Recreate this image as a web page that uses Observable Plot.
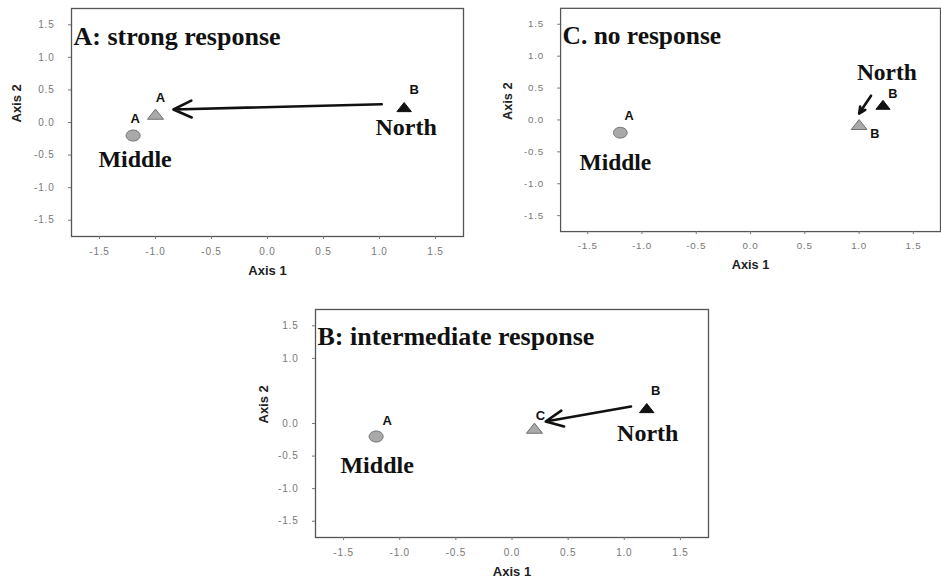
<!DOCTYPE html>
<html>
<head>
<meta charset="utf-8">
<script src="https://cdn.jsdelivr.net/npm/d3@7"></script>
<script src="https://cdn.jsdelivr.net/npm/@observablehq/plot@0.6"></script>
<style>
  html, body { margin: 0; padding: 0; background: #fff; }
  body { width: 941px; height: 584px; position: relative; overflow: hidden; }
  .panel { position: absolute; }
</style>
</head>
<body>
<div id="pA" class="panel"></div>
<div id="pB" class="panel"></div>
<div id="pC" class="panel"></div>
<script>
// ---- data ----
const titles = ["A: strong response", "B: intermediate response", "C. no response"];
const siteNames = ["Middle", "North"];
const middleX = [-1.2, -1.21, -1.2];
const middleY = [-0.2, -0.2, -0.2];
const shiftedX = [-1.0, 0.2, 1.0];
const shiftedY = [0.12, -0.08, -0.08];
const northX = [1.22, 1.2, 1.22];
const northY = [0.23, 0.23, 0.23];
const arrowFromX = [1.02, 1.06, 1.11];
const arrowFromY = [0.28, 0.26, 0.38];
const arrowToX = [-0.84, 0.3, 1.0];
const arrowToY = [0.2, 0.03, 0.1];
const middleLetters = ["A", "A", "A"];
const shiftedLetters = ["A", "C", "B"];
const northLetters = ["B", "B", "B"];
const xTicks = [-1.5, -1.0, -0.5, 0.0, 0.5, 1.0, 1.5];
const yTicksFull = [-1.5, -1.0, -0.5, 0.0, 0.5, 1.0, 1.5];
const yTicksB = [-1.5, -1.0, -0.5, 0.0, 1.0, 1.5];
const axisNames = ["Axis 1", "Axis 2"];

// ---- custom symbols ----
const ellipse = {
  draw(ctx, size) {
    const r = Math.sqrt(size / Math.PI);
    const rx = r * 1.15, ry = r * 0.9, k = 0.5523;
    ctx.moveTo(rx, 0);
    ctx.bezierCurveTo(rx, ry * k, rx * k, ry, 0, ry);
    ctx.bezierCurveTo(-rx * k, ry, -rx, ry * k, -rx, 0);
    ctx.bezierCurveTo(-rx, -ry * k, -rx * k, -ry, 0, -ry);
    ctx.bezierCurveTo(rx * k, -ry, rx, -ry * k, rx, 0);
    ctx.closePath();
  }
};
const flatTriangle = {
  draw(ctx, size) {
    const r = Math.sqrt(size / Math.PI);
    const hw = r * 1.15, h = r * 1.45;
    ctx.moveTo(0, -h * 0.55);
    ctx.lineTo(hw, h * 0.45);
    ctx.lineTo(-hw, h * 0.45);
    ctx.closePath();
  }
};

// ---- layout per panel (order: A, B, C) ----
const layouts = [
  {id: "pA", left: 0, top: 0, width: 470, height: 290, ml: 71, mr: 7, mt: 8, mb: 54,
   yTicks: yTicksFull, titleDy: 18, axis2Dx: -55, head: 11.5, titleLen: 215, midLen: 75, northLen: 60,
   midLetter: [2, -17], shiftLetter: [5, -17], northLetter: [10, -18], middle: [2, 24], north: [2, 20]},
  {id: "pB", left: 250, top: 300, width: 460, height: 284, ml: 65, mr: 2, mt: 9, mb: 47,
   yTicks: yTicksB, titleDy: 17.5, axis2Dx: -52, head: 11, titleLen: 287, midLen: 73, northLen: 61,
   midLetter: [11, -16], shiftLetter: [6, -13], northLetter: [9, -18], middle: [1, 29], north: [1, 25]},
  {id: "pC", left: 470, top: 0, width: 481, height: 290, ml: 92, mr: 1, mt: 8, mb: 54,
   yTicks: yTicksFull, titleDy: 18, axis2Dx: -54, head: 6, titleLen: 169, midLen: 73, northLen: 60,
   midLetter: [9, -17], shiftLetter: [16, 9], northLetter: [10, -12], middle: [-5, 30], north: [4, -34]}
];

const serif = "'Liberation Serif', 'Times New Roman', serif";
const sans = "'Liberation Sans', Arial, sans-serif";
const fmt = d => d.toFixed(1);

layouts.forEach((L, i) => {
  const pt = (x, y) => [{x, y}];
  const letterStyle = {fontFamily: sans, fontWeight: "bold", fontSize: 13, fill: "#111"};
  const svg = Plot.plot({
    width: L.width, height: L.height,
    marginLeft: L.ml, marginRight: L.mr, marginTop: L.mt, marginBottom: L.mb,
    style: {background: "transparent", overflow: "visible", fontFamily: sans},
    x: {domain: [-1.75, 1.75], axis: null},
    y: {domain: [-1.75, 1.75], axis: null},
    marks: [
      Plot.frame({stroke: "#555", strokeWidth: 1.3}),
      Plot.axisX(xTicks, {anchor: "bottom", tickSize: 3, tickPadding: 8, tickFormat: fmt,
        color: "#777", fontSize: 10, label: null}),
      Plot.axisY(L.yTicks, {anchor: "left", tickSize: 3, tickPadding: 14, tickFormat: fmt,
        color: "#777", fontSize: 10, label: null}),
      Plot.text([axisNames[0]], {text: d => d, frameAnchor: "bottom", dy: 38,
        fontWeight: "bold", fontSize: 13, fill: "#222", fontFamily: sans, ariaLabel: "axis1"}),
      Plot.text([axisNames[1]], {text: d => d, frameAnchor: "left", dx: L.axis2Dx, rotate: -90,
        fontWeight: "bold", fontSize: 13, fill: "#222", fontFamily: sans, ariaLabel: "axis2"}),
      Plot.text([titles[i]], {text: d => d, frameAnchor: "top-left", textAnchor: "start",
        dx: 2, dy: L.titleDy, fontFamily: serif, fontWeight: "bold", fontSize: 26, fill: "#111",
        ariaLabel: "paneltitle"}),
      // points
      Plot.dot(pt(shiftedX[i], shiftedY[i]), {x: "x", y: "y", r: 7, symbol: flatTriangle,
        fill: "#a9a9a9", stroke: "#707070", strokeWidth: 1}),
      Plot.dot(pt(middleX[i], middleY[i]), {x: "x", y: "y", r: 6.1, symbol: ellipse,
        fill: "#a9a9a9", stroke: "#707070", strokeWidth: 1}),
      Plot.dot(pt(northX[i], northY[i]), {x: "x", y: "y", r: 6.3, symbol: flatTriangle,
        fill: "#111", stroke: "#111", strokeWidth: 1}),
      // arrow
      Plot.arrow(pt(0, 0), {x1: () => arrowFromX[i], y1: () => arrowFromY[i],
        x2: () => arrowToX[i], y2: () => arrowToY[i],
        stroke: "#111", strokeWidth: 2.6, headLength: L.head, headAngle: 50}),
      // letters
      Plot.text(pt(middleX[i], middleY[i]), {x: "x", y: "y", text: () => middleLetters[i],
        dx: L.midLetter[0], dy: L.midLetter[1], ...letterStyle}),
      Plot.text(pt(shiftedX[i], shiftedY[i]), {x: "x", y: "y", text: () => shiftedLetters[i],
        dx: L.shiftLetter[0], dy: L.shiftLetter[1], ...letterStyle}),
      Plot.text(pt(northX[i], northY[i]), {x: "x", y: "y", text: () => northLetters[i],
        dx: L.northLetter[0], dy: L.northLetter[1], ...letterStyle}),
      // site names
      Plot.text(pt(middleX[i], middleY[i]), {x: "x", y: "y", text: () => siteNames[0],
        dx: L.middle[0], dy: L.middle[1], fontFamily: serif, fontWeight: "bold", fontSize: 24, fill: "#111",
        ariaLabel: "middlename"}),
      Plot.text(pt(northX[i], northY[i]), {x: "x", y: "y", text: () => siteNames[1],
        dx: L.north[0], dy: L.north[1], fontFamily: serif, fontWeight: "bold", fontSize: 24, fill: "#111",
        ariaLabel: "northname"})
    ]
  });
  const s = d3.select(svg);
  s.selectAll("g[aria-label=paneltitle] text").attr("textLength", L.titleLen).attr("lengthAdjust", "spacingAndGlyphs");
  s.selectAll("g[aria-label=middlename] text").attr("textLength", L.midLen).attr("lengthAdjust", "spacingAndGlyphs");
  s.selectAll("g[aria-label=northname] text").attr("textLength", L.northLen).attr("lengthAdjust", "spacingAndGlyphs");
  s.selectAll("g[aria-label=axis1] text, g[aria-label=axis2] text").style("letter-spacing", "1.2px");
  s.selectAll("g[aria-label='x-axis tick label'] text, g[aria-label='y-axis tick label'] text").style("letter-spacing", "0.8px");
  const holder = document.getElementById(L.id);
  holder.style.left = L.left + "px";
  holder.style.top = L.top + "px";
  holder.appendChild(svg);
});
</script>
</body>
</html>
